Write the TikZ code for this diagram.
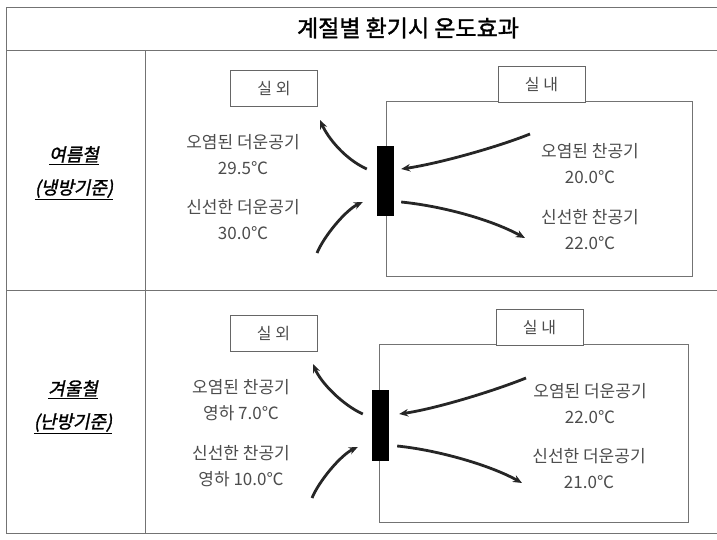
\documentclass[tikz,border=0pt]{standalone}
\usepackage{fontspec}
\setmainfont{Noto Sans CJK KR}
\newfontfamily\titlekr{Noto Sans CJK KR}[FakeBold=1.5]
\newfontfamily\seasonkr{Noto Sans CJK KR}[FakeBold=1.5, FakeSlant=0.2]
\usetikzlibrary{arrows.meta}

\begin{document}
\begin{tikzpicture}[x=1pt, y=-1pt,
            frame/.style={draw=black!55, line width=0.5pt},
            tagbox/.style={draw=black!60, line width=0.5pt, minimum width=87pt, minimum height=36pt, inner sep=0pt, text=black!70, font=\fontsize{16}{16}\selectfont},
            airtext/.style={align=center, text=black!70, font=\fontsize{17}{26}\selectfont},
            season/.style={align=center, font=\seasonkr\fontsize{18}{33}\selectfont},
            vent/.style={draw=black, fill=black, minimum width=16pt, minimum height=69pt, inner sep=0pt},
            flow/.style={draw=black!85, line width=2.8pt, -{Stealth[length=9pt, width=7.5pt]}}]
            \useasboundingbox (0,0) rectangle (717,539);

            % table frame
            \draw[frame] (717,7) -- (6,7) -- (6,533) -- (717,533);
            \draw[frame] (6,50) -- (717,50);
            \draw[frame] (145,50) -- (145,533);
            \draw[frame] (6,290) -- (717,290);
            \node[font=\titlekr\fontsize{23}{23}\selectfont] (title) at (408,28) {계절별 환기시 온도효과};

            \node[season] (summer) at (74,173) {\underline{여름철}\\\underline{(냉방기준)}};
            \node[season] (winter) at (73,407) {\underline{겨울철}\\\underline{(난방기준)}};

            % summer
            \draw[frame] (386,101) rectangle (692,276);
            \node[tagbox] (out1) at (274,88.5) {실 외};
            \node[tagbox, fill=white] (in1) at (541.5,84.5) {실 내};
            \node[vent] (vent1) at (385,181) {};

            \node[airtext] (hot1) at (243,155) {오염된 더운공기\\29.5℃};
            \node[airtext] (fresh1) at (243,220) {신선한 더운공기\\30.0℃};
            \node[airtext] (cold1) at (590,164) {오염된 찬공기\\20.0℃};
            \node[airtext] (cool1) at (590,230) {신선한 찬공기\\22.0℃};

            \coordinate (ex1) at (320,120);
            \coordinate (sup1) at (317,253);
            \coordinate (ret1) at (530,134);
            \coordinate (fr1) at (525,238);

            \draw[flow] ([xshift=-10pt, yshift=12pt]vent1.west) .. controls +(-22,-10) and +(8,18) .. (ex1);
            \draw[flow] (sup1) .. controls +(7,-17) and +(-17,8) .. ([xshift=-14pt, yshift=-21pt]vent1.west);
            \draw[flow] (ret1) .. controls +(-35,14) and +(35,-5) .. ([xshift=8pt, yshift=12pt]vent1.east);
            \draw[flow] ([xshift=8pt, yshift=-21pt]vent1.east) .. controls +(40,4) and +(-35,-19) .. (fr1);

            % winter
            \draw[frame] (379,344) rectangle (688,522);
            \node[tagbox] (out2) at (273.5,333.5) {실 외};
            \node[tagbox, fill=white] (in2) at (539.5,327.5) {실 내};
            \node[vent, minimum height=70pt] (vent2) at (380,425) {};

            \node[airtext] (cold2) at (241,400) {오염된 찬공기\\영하 7.0℃};
            \node[airtext] (cool2) at (241,466) {신선한 찬공기\\영하 10.0℃};
            \node[airtext] (hot2) at (590,404) {오염된 더운공기\\22.0℃};
            \node[airtext] (fresh2) at (589,469) {신선한 더운공기\\21.0℃};

            \coordinate (ex2) at (313,364);
            \coordinate (sup2) at (312,498);
            \coordinate (ret2) at (526,378);
            \coordinate (fr2) at (522,483);

            \draw[flow] ([xshift=-9pt, yshift=11pt]vent2.west) .. controls +(-20,-9) and +(8,19) .. (ex2);
            \draw[flow] (sup2) .. controls +(7,-17) and +(-17,8) .. ([xshift=-14pt, yshift=-22pt]vent2.west);
            \draw[flow] (ret2) .. controls +(-35,14) and +(35,-5) .. ([xshift=11pt, yshift=11pt]vent2.east);
            \draw[flow] ([xshift=9pt, yshift=-21pt]vent2.east) .. controls +(40,4) and +(-32,-18) .. (fr2);
        \end{tikzpicture}
\end{document}
